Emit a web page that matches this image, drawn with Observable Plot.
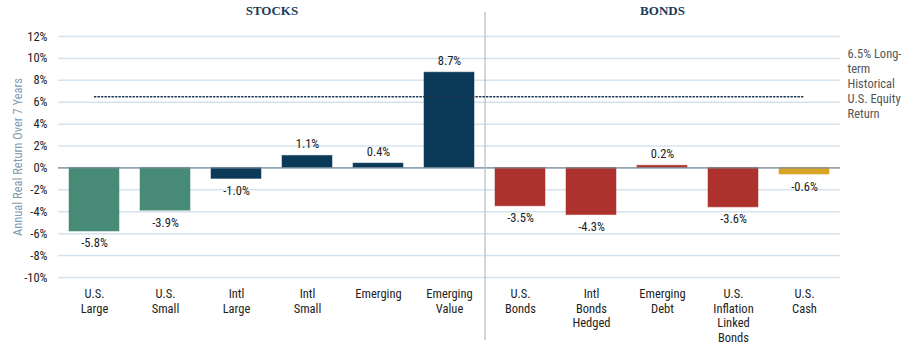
<!DOCTYPE html>
<html>
<head>
<meta charset="utf-8">
<script src="https://cdn.jsdelivr.net/npm/d3@7"></script>
<script src="https://cdn.jsdelivr.net/npm/@observablehq/plot@0.6"></script>
<style>
  body { margin: 0; background: #fff; }
  #chart svg { font-family: "Liberation Sans Narrow", "Roboto Condensed", Roboto, sans-serif; }
</style>
</head>
<body>
<div id="chart"></div>
<script>
const categories = ["U.S.\nLarge", "U.S.\nSmall", "Intl\nLarge", "Intl\nSmall", "Emerging", "Emerging\nValue",
                    "U.S.\nBonds", "Intl\nBonds\nHedged", "Emerging\nDebt", "U.S.\nInflation\nLinked\nBonds", "U.S.\nCash"];
const values = [-5.8, -3.9, -1.0, 1.1, 0.4, 8.7, -3.5, -4.3, 0.2, -3.6, -0.6];
const groups = ["US Equity", "US Equity", "Non-US Equity", "Non-US Equity", "Non-US Equity", "Non-US Equity",
                "Bonds", "Bonds", "Bonds", "Bonds", "Cash"];
const groupNames = ["US Equity", "Non-US Equity", "Bonds", "Cash"];
const groupColors = ["#478a76", "#0b3a58", "#ad322d", "#d8a526"];
const yTicks = [-10, -8, -6, -4, -2, 0, 2, 4, 6, 8, 10, 12];
const benchmark = 6.5;
const benchmarkLabel = "6.5% Long-\nterm\nHistorical\nU.S. Equity\nReturn";
const sectionTitles = ["STOCKS", "BONDS"];
const yLabel = "Annual Real Return Over 7 Years";

const data = categories.map((c, i) => ({cat: c, value: values[i], group: groups[i]}));

const width = 908, marginLeft = 58, marginRight = 68;
const step = (width - marginLeft - marginRight) / categories.length;

const labelStyle = {x: "cat", y: "value", text: d => d.value.toFixed(1) + "%", fontSize: 12.5, fontWeight: "normal", fill: "#222"};
const titleStyle = {frameAnchor: "top", dy: -31, text: d => d, fontFamily: "'Liberation Serif', 'DejaVu Serif', serif", fontWeight: "bold", fontSize: 13, fill: "#1a3c5e"};

const chart = Plot.plot({
  width,
  height: 350,
  marginTop: 36,
  marginBottom: 73,
  marginLeft,
  marginRight,
  x: {domain: categories, paddingInner: 0.3, paddingOuter: 0.15, label: null},
  y: {domain: [-10, 12], label: null},
  color: {domain: groupNames, range: groupColors},
  marks: [
    Plot.gridY(yTicks, {stroke: "#d4e3ee", strokeOpacity: 1, strokeWidth: 1.5}),
    Plot.axisY(yTicks, {tickSize: 0, tickPadding: 11, tickFormat: d => d + "%", fontSize: 12.5, fontWeight: "normal", fill: "#1e1e1e", label: null}),
    Plot.axisX({tickSize: 0, tickPadding: 10, fontSize: 12.5, fontWeight: "normal", fill: "#1e1e1e", lineHeight: 1.17, label: null}),
    Plot.text([yLabel], {frameAnchor: "left", rotate: -90, dx: -41, textAnchor: "middle", fill: "#7f9bb3", fontSize: 12.5, text: d => d}),
    Plot.barY(data, {x: "cat", y: "value", fill: "group", stroke: "group", strokeOpacity: 0.5}),
    Plot.ruleY([0], {stroke: "#7d8c99", strokeWidth: 1.3}),
    Plot.ruleX([categories[5]], {dx: step / 2, stroke: "#b9c1c8", strokeWidth: 1.3, insetTop: -24, insetBottom: -63}),
    Plot.lineY([categories[0], categories[categories.length - 1]], {x: d => d, y: () => benchmark, stroke: "#1b3550", strokeWidth: 1.5, strokeDasharray: "1.3,2.2"}),
    Plot.text([benchmarkLabel], {frameAnchor: "right", y: () => benchmark, dx: 7, dy: -14, textAnchor: "start", lineHeight: 1.2, fontSize: 12.5, fill: "#555", text: d => d}),
    Plot.text(data.filter(d => d.value >= 0), {...labelStyle, dy: -12}),
    Plot.text(data.filter(d => d.value < 0), {...labelStyle, dy: 12}),
    Plot.text([sectionTitles[0]], {...titleStyle, x: () => categories[3], dx: -step / 2}),
    Plot.text([sectionTitles[1]], {...titleStyle, x: () => categories[8]})
  ]
});
document.getElementById("chart").appendChild(chart);
</script>
</body>
</html>
